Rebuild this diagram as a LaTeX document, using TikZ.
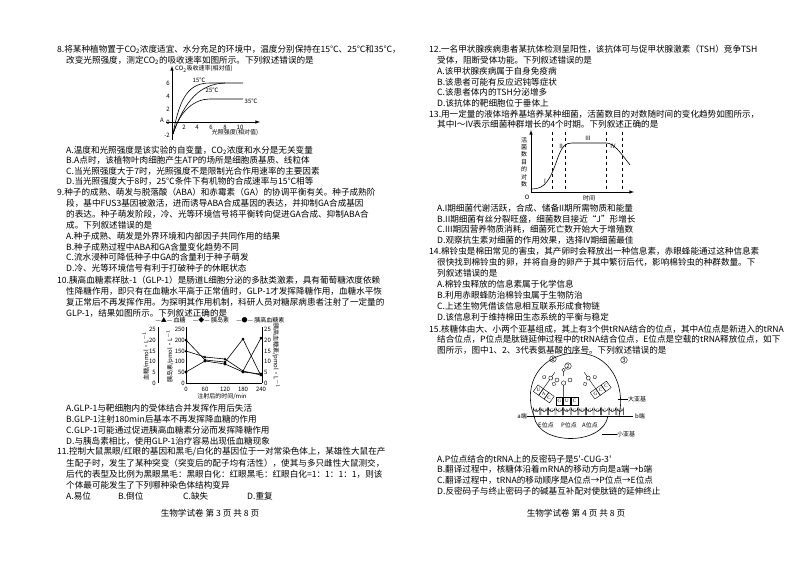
\documentclass[tikz,border=0pt]{standalone}
\usepackage{fontspec}
\setmainfont{Liberation Serif}
\newfontfamily\cjk{Noto Sans CJK SC}
\begin{document}
\begin{tikzpicture}[x=1pt,y=-1pt,
  tl/.style={anchor=west,inner sep=0pt,font=\cjk\fontsize{8.6}{10}\selectfont},
  sm/.style={inner sep=0pt,font=\cjk\fontsize{6}{7}\selectfont},
  tiny/.style={inner sep=0pt,font=\fontsize{5}{6}\selectfont},
  ax/.style={line width=0.6pt,-latex},
  cv/.style={line width=0.6pt},
  dl/.style={dashed,line width=0.5pt},
  th/.style={line width=0.4pt}]
\useasboundingbox[fill=white] (0,0) rectangle (794,562);
% ---------- left column ----------
\node[tl] (q8a) at (57,49) {8.将某种植物置于CO\textsubscript{2}浓度适宜、水分充足的环境中，温度分别保持在15℃、25℃和35℃，};
\node[tl] (q8b) at (66,60) {改变光照强度，测定CO\textsubscript{2}的吸收速率如图所示。下列叙述错误的是};
% graph 1
\draw[ax] (172,140) -- (172,66);
\draw[ax] (166,122) -- (260,122);
\node[sm,anchor=west] (g1y) at (175,69) {CO\textsubscript{2}吸收速率(相对值)};
\foreach \v/\yy in {6/83,4/96,2/109,0/122,-2/135}{\node[sm,anchor=east] at (170,\yy) {\v};}
\foreach \v/\xx in {2/184,4/197,6/211,8/225,10/240}{\node[sm] at (\xx,127) {\v};}
\node[sm] (g1x) at (235,133) {光照强度(相对值)};
\node[sm] (ga) at (162,120) {A};
\draw[cv] (173,134) .. controls (180,95) and (190,83) .. (210,83) -- (243,83);
\draw[cv] (173,134) .. controls (185,100) and (200,84) .. (225,83);
\draw[cv] (173,134) .. controls (180,110) and (195,99) .. (210,99) -- (243,99);
\node[sm] (t15) at (199,80) {15℃};
\node[sm] (t25) at (212,90) {25℃};
\node[sm] (t35) at (251,101) {35℃};
\node[tl] at (66,150) {A.温度和光照强度是该实验的自变量，CO\textsubscript{2}浓度和水分是无关变量};
\node[tl] at (66,160) {B.A点时，该植物叶肉细胞产生ATP的场所是细胞质基质、线粒体};
\node[tl] at (66,171) {C.当光照强度大于7时，光照强度不是限制光合作用速率的主要因素};
\node[tl] at (66,181) {D.当光照强度大于8时，25℃条件下有机物的合成速率与15℃相等};
\node[tl] at (57,192) {9.种子的成熟、萌发与脱落酸（ABA）和赤霉素（GA）的协调平衡有关。种子成熟阶};
\node[tl] at (66,203) {段，基中FUS3基因被激活，进而诱导ABA合成基因的表达，并抑制GA合成基因};
\node[tl] at (66,214) {的表达。种子萌发阶段，冷、光等环境信号将平衡转向促进GA合成、抑制ABA合};
\node[tl] at (66,225) {成。下列叙述错误的是};
\node[tl] at (66,236) {A.种子成熟、萌发是外界环境和内部因子共同作用的结果};
\node[tl] at (66,247) {B.种子成熟过程中ABA和GA含量变化趋势不同};
\node[tl] at (66,257) {C.流水浸种可降低种子中GA的含量利于种子萌发};
\node[tl] at (66,268) {D.冷、光等环境信号有利于打破种子的休眠状态};
\node[tl] at (57,280) {10.胰高血糖素样肽-1（GLP-1）是肠道L细胞分泌的多肽类激素，具有葡萄糖浓度依赖};
\node[tl] at (66,291) {性降糖作用，即只有在血糖水平高于正常值时，GLP-1才发挥降糖作用，血糖水平恢};
\node[tl] at (66,302) {复正常后不再发挥作用。为探明其作用机制，科研人员对糖尿病患者注射了一定量的};
\node[tl] at (66,313) {GLP-1，结果如图所示。下列叙述正确的是};
% graph 2
\node[sm] (lg) at (220,320) {—▲— 血糖 \quad —◆— 胰岛素 \quad —●— 胰高血糖素};
\draw[line width=0.6pt] (158,327) -- (158,383);
\draw[line width=0.6pt] (186,327) -- (186,383) -- (262,383);
\draw[line width=0.6pt] (262,327) -- (262,383);
\foreach \v/\yy in {25/329,20/340,15/351,10/361,5/372,0/383}{\node[sm,anchor=east] at (156,\yy) {\v};\node[sm,anchor=west] at (264,\yy) {\v};}
\foreach \v/\yy in {250/329,200/340,150/351,100/361,50/372,0/383}{\node[sm,anchor=east] at (185,\yy) {\v};}
\foreach \v/\xx in {0/186,60/205,120/225,180/243,240/261}{\node[sm] at (\xx,389) {\v};}
\node[sm,rotate=90] at (146,356) {血糖/mmol·L$^{-1}$};
\node[sm,rotate=90] at (170,356) {胰岛素/pmol·L$^{-1}$};
\node[sm,rotate=-90] at (276,356) {胰高血糖素/pmol·L$^{-1}$};
\node[sm] (g2x) at (222,396) {注射后的时间/min};
\draw[cv] (186,351) -- (205,357) -- (225,359) -- (243,371) -- (261,375);
\foreach \p in {(186,351),(205,357),(225,359),(243,371),(261,375)} \fill \p ++(0,-1.5) -- ++(1.5,2.5) -- ++(-3,0) -- cycle;
\draw[cv] (186,372) -- (205,361) -- (225,364) -- (243,372) -- (261,374);
\foreach \p in {(186,372),(205,361),(225,364),(243,372),(261,374)} \fill \p ++(0,-1.6) -- ++(1.6,1.6) -- ++(-1.6,1.6) -- ++(-1.6,-1.6) -- cycle;
\draw[cv] (186,340) -- (205,360) -- (225,362) -- (243,339) -- (261,376);
\draw[cv] (243,371) -- (261,338);
\foreach \p in {(186,340),(205,360),(225,362),(243,339),(261,338)} \fill \p circle (1.5);
\node[tl] at (66,408) {A.GLP-1与靶细胞内的受体结合并发挥作用后失活};
\node[tl] at (66,419) {B.GLP-1注射180min后基本不再发挥降血糖的作用};
\node[tl] at (66,430) {C.GLP-1可能通过促进胰高血糖素分泌而发挥降糖作用};
\node[tl] at (66,441) {D.与胰岛素相比，使用GLP-1治疗容易出现低血糖现象};
\node[tl] at (57,452) {11.控制大鼠黑眼/红眼的基因和黑毛/白化的基因位于一对常染色体上，某雄性大鼠在产};
\node[tl] at (66,463) {生配子时，发生了某种突变（突变后的配子均有活性），使其与多只雌性大鼠测交，};
\node[tl] at (66,474) {后代的表型及比例为黑眼黑毛：黑眼白化：红眼黑毛：红眼白化=1：1：1：1，则该};
\node[tl] at (66,485) {个体最可能发生了下列哪种染色体结构变异};
\node[tl] at (66,496) {A.易位};
\node[tl] at (118,496) {B.倒位};
\node[tl] at (183,496) {C.缺失};
\node[tl] at (247,496) {D.重复};
\node[tl,anchor=center] (f3) at (210,513) {生物学试卷\ 第\ 3\ 页\ 共\ 8\ 页};
% ---------- right column ----------
\node[tl] at (429,49) {12.一名甲状腺疾病患者某抗体检测呈阳性，该抗体可与促甲状腺激素（TSH）竞争TSH};
\node[tl] at (437,60) {受体，阻断受体功能。下列叙述错误的是};
\node[tl] at (437,71) {A.该甲状腺疾病属于自身免疫病};
\node[tl] at (437,82) {B.该患者可能有反应迟钝等症状};
\node[tl] at (437,92) {C.该患者体内的TSH分泌增多};
\node[tl] at (437,103) {D.该抗体的靶细胞位于垂体上};
\node[tl] at (429,114) {13.用一定量的液体培养基培养某种细菌，活菌数目的对数随时间的变化趋势如图所示，};
\node[tl] at (437,124) {其中I～IV表示细菌种群增长的4个时期。下列叙述正确的是};
% graph 3
\draw[ax] (531,192) -- (531,130);
\draw[ax] (531,192) -- (634,192);
\node[sm] (o3) at (527,197) {\itshape O};
\node[sm,align=center,font=\cjk\fontsize{6}{7.4}\selectfont] (g3y) at (524,162) {活\\菌\\数\\目\\的\\对\\数};
\node[sm] (g3x) at (589,198) {时间};
\foreach \xx in {552,565,606,622} \draw[dl] (\xx,132) -- (\xx,192);
\draw[cv] (532,189) .. controls (545,189) and (550,180) .. (557,160) .. controls (562,146) and (565,143) .. (572,143) -- (606,143) .. controls (614,143) and (620,152) .. (630,165);
\node[sm] at (545,181) {I};
\node[sm] at (561,146) {II};
\node[sm] at (588,138) {III};
\node[sm] at (613,146) {IV};
\node[tl] at (437,208) {A.I期细菌代谢活跃，合成、储备II期所需物质和能量};
\node[tl] at (437,219) {B.II期细菌有丝分裂旺盛，细菌数目接近“J”形增长};
\node[tl] at (437,229) {C.III期因营养物质消耗，细菌死亡数开始大于增殖数};
\node[tl] at (437,240) {D.观察抗生素对细菌的作用效果，选择IV期细菌最佳};
\node[tl] at (429,251) {14.棉铃虫是棉田常见的害虫，其产卵时会释放出一种信息素，赤眼蜂能通过这种信息素};
\node[tl] at (437,262) {很快找到棉铃虫的卵，并将自身的卵产于其中繁衍后代，影响棉铃虫的种群数量。下};
\node[tl] at (437,273) {列叙述错误的是};
\node[tl] at (437,284) {A.棉铃虫释放的信息素属于化学信息};
\node[tl] at (437,295) {B.利用赤眼蜂防治棉铃虫属于生物防治};
\node[tl] at (437,306) {C.上述生物凭借该信息相互联系形成食物链};
\node[tl] at (437,317) {D.该信息利于维持棉田生态系统的平衡与稳定};
\node[tl] at (429,329) {15.核糖体由大、小两个亚基组成，其上有3个供tRNA结合的位点，其中A位点是新进入的tRNA};
\node[tl] at (437,339) {结合位点，P位点是肽链延伸过程中的tRNA结合位点，E位点是空载的tRNA释放位点，如下};
\node[tl] at (437,350) {图所示，图中1、2、3代表氨基酸的序号。下列叙述错误的是};
% ribosome
\draw[cv] (534,416) .. controls (522,385) and (540,353) .. (577,353) .. controls (610,353) and (626,385) .. (619,416);
\draw[cv] (534,416) .. controls (538,446) and (603,446) .. (608,416);
\draw[line width=0.9pt] (527,416) -- (633,416);
\node[sm,anchor=east] (ea) at (527,416) {a端};
\node[sm,anchor=west] (eb) at (635,416) {b端};
\foreach \c [count=\i] in {A,U,G,C,A,G,U,G,G,C,U,U}{
  \draw[th] ({525.6+7.6*\i},415) -- ({525.6+7.6*\i},408) arc (180:0:3.3) -- ({532.2+7.6*\i},415);
  \node[tiny] at ({528.9+7.6*\i},411) {\c};}
\foreach \c [count=\i] in {G,U,C}{\draw[th] ({548.4+7.6*\i},397) rectangle ({555+7.6*\i},405); \node[tiny] at ({551.7+7.6*\i},401) {\c};}
% P-site tRNA
\draw[th] (563.6,397) -- (563.6,385) (563.6,383) circle (2.2) (557,380) circle (2) (570,380) circle (2) (563.6,376) -- (563.6,372) (563.6,370) circle (1.8);
\node[sm,draw,circle,inner sep=0.4pt] (n2) at (568,366) {2};
% E-site tRNA (tilted)
\begin{scope}[shift={(541,392)},rotate=-35]
 \foreach \c [count=\i] in {U,A,C}{\draw[th] ({-13.2+6.6*\i},-4) rectangle ({-6.6+6.6*\i},4); \node[tiny] at ({-9.9+6.6*\i},0) {\c};}
 \draw[th] (0,-4) -- (0,-15) (0,-17) circle (2) (-6,-14) circle (1.8) (6,-14) circle (1.8) (0,-19) -- (0,-24);
\end{scope}
\node[sm,draw,circle,inner sep=0.4pt] (n1) at (553,359) {1};
% A-site tRNA (tilted)
\begin{scope}[shift={(598,392)},rotate=35]
 \foreach \c [count=\i] in {G,C,C}{\draw[th] ({-13.2+6.6*\i},-4) rectangle ({-6.6+6.6*\i},4); \node[tiny] at ({-9.9+6.6*\i},0) {\c};}
 \draw[th] (0,-4) -- (0,-15) (0,-17) circle (2) (-6,-14) circle (1.8) (6,-14) circle (1.8) (0,-19) -- (0,-24);
\end{scope}
\node[sm,draw,circle,inner sep=0.4pt] (n3) at (624,360) {3};
\node[sm] (es) at (546,425) {E位点};
\node[sm] (ps) at (569,425) {P位点};
\node[sm] (as) at (590,425) {A位点};
\node[sm,anchor=west] (big) at (628,399) {大亚基};
\node[sm,anchor=west] (small) at (617,434) {小亚基};
\draw[th] (618,399) -- (big.west);
\draw[th] (602,434) -- (small.west);
\node[tl] at (437,459) {A.P位点结合的tRNA上的反密码子是5'-CUG-3'};
\node[tl] at (437,469) {B.翻译过程中，核糖体沿着mRNA的移动方向是a端→b端};
\node[tl] at (437,480) {C.翻译过程中，tRNA的移动顺序是A位点→P位点→E位点};
\node[tl] at (437,491) {D.反密码子与终止密码子的碱基互补配对使肽链的延伸终止};
\node[tl,anchor=center] (f4) at (576,513) {生物学试卷\ 第\ 4\ 页\ 共\ 8\ 页};
\end{tikzpicture}
\end{document}
